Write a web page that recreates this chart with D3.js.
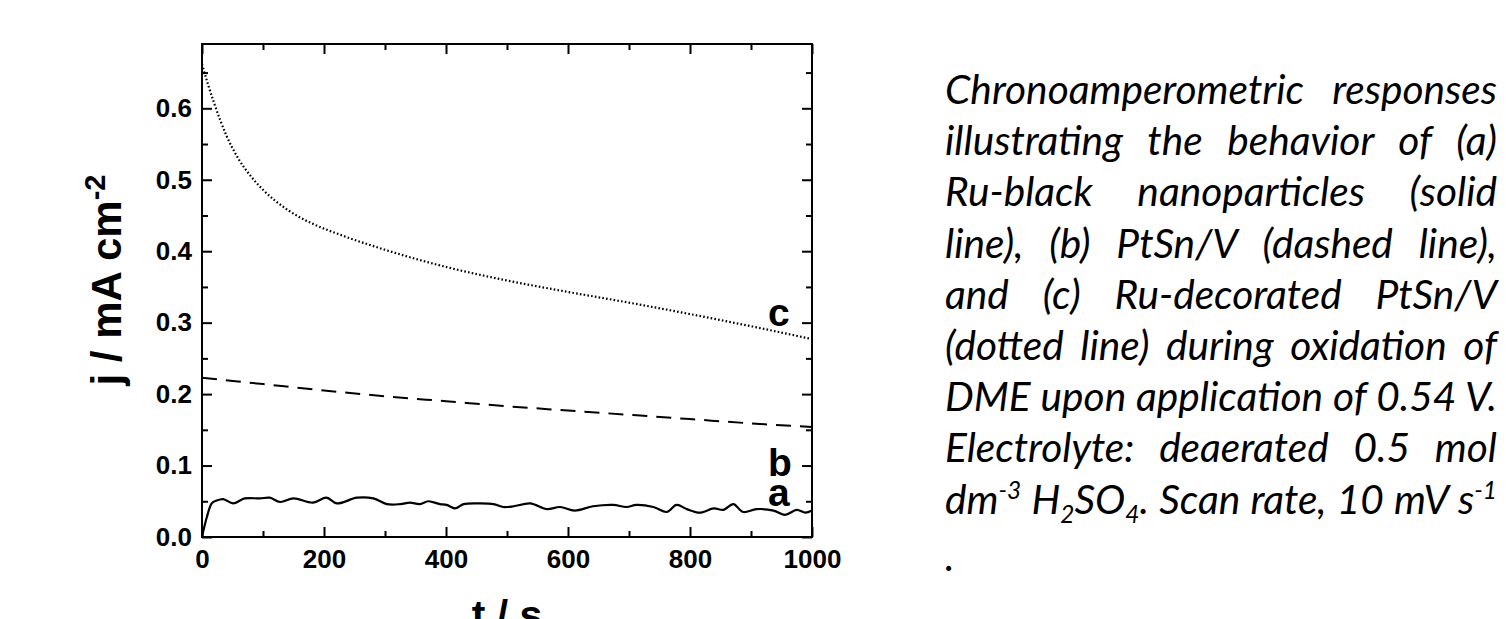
<!DOCTYPE html>
<html>
<head>
<meta charset="utf-8">
<script src="https://cdn.jsdelivr.net/npm/d3@7/dist/d3.min.js"></script>
<style>
  body { margin: 0; background: #fff; }
  #caption { position: absolute; left: 945px; top: 63px; width: 552px;
    font-family: Lato, "Open Sans", sans-serif; font-style: italic; color: #000; }
  #caption .ln { white-space: nowrap; line-height: 51.2px; height: 51.2px; }
  #caption sup, #caption sub { font-size: 0.6em; line-height: 0; }
</style>
</head>
<body>
<script>
// values (t in s, j in mA cm-2)
// (a) Ru-black, solid
var tA = [0, 8, 16, 24, 35, 51, 70, 95, 111, 128, 150, 182, 204, 221, 254, 281, 303, 325, 341, 357,
  371, 390, 401, 415, 429, 456, 478, 494, 511, 538, 565, 587, 611, 641, 674, 696, 712, 740, 762, 778,
  795, 816, 839, 855, 871, 887, 909, 937, 956, 975, 989, 1000];
var jA = [0, 0.028, 0.047, 0.051, 0.053, 0.047, 0.054, 0.054, 0.055, 0.049, 0.054, 0.048, 0.055, 0.047, 0.055, 0.054, 0.046, 0.046, 0.048, 0.046,
  0.050, 0.046, 0.045, 0.040, 0.046, 0.047, 0.046, 0.042, 0.043, 0.047, 0.039, 0.042, 0.037, 0.043, 0.045, 0.042, 0.045, 0.042, 0.035, 0.045,
  0.039, 0.034, 0.040, 0.038, 0.046, 0.035, 0.039, 0.037, 0.031, 0.038, 0.034, 0.037];

// (b) PtSn/V, dashed
var tB = [0, 100, 200, 300, 400, 500, 600, 700, 800, 900, 1000];
var jB = [0.223, 0.214, 0.205, 0.197, 0.190, 0.183, 0.177, 0.171, 0.165, 0.159, 0.154];

// (c) Ru-decorated PtSn/V, dotted
var tC = [0, 10, 20, 40, 60, 80, 100, 140, 180, 230, 300, 400, 500, 600, 700, 800, 900, 1000];
var jC = [0.662, 0.633, 0.607, 0.562, 0.529, 0.505, 0.486, 0.458, 0.439, 0.422, 0.402, 0.378, 0.359, 0.343, 0.328, 0.312, 0.295, 0.277];

var xMajor = [0, 200, 400, 600, 800, 1000];
var xMinor = [100, 300, 500, 700, 900];
var yMajor = [0, 0.1, 0.2, 0.3, 0.4, 0.5, 0.6];
var yMinor = [0.05, 0.15, 0.25, 0.35, 0.45, 0.55, 0.65];

var curveNames = ['a', 'b', 'c'];
var nameT = [928, 928, 928];
var nameJ = [0.044, 0.085, 0.296];

var captionLines = [
  'Chronoamperometric responses',
  'illustrating the behavior of (a)',
  'Ru-black nanoparticles (solid',
  'line), (b) PtSn/V (dashed line),',
  'and (c) Ru-decorated PtSn/V',
  '(dotted line) during oxidation of',
  'DME upon application of 0.54 V.',
  'Electrolyte: deaerated 0.5 mol',
  'dm<sup>-3</sup> H<sub>2</sub>SO<sub>4</sub>. Scan rate, 10 mV s<sup>-1</sup>'
];

var font = '"Liberation Sans", Arial, sans-serif';

var svg = d3.select('body').append('svg')
  .attr('width', 1506)
  .attr('height', 619)
  .style('position', 'absolute')
  .style('left', 0)
  .style('top', 0);

var x = d3.scaleLinear().domain([0, 1000]).range([202, 812]);
var y = d3.scaleLinear().domain([0, 0.69]).range([537, 44]);

// ticks (all pointing inward) on the four sides
function ticks(axis, tr, vals, size, labels) {
  var g = svg.append('g')
    .attr('transform', tr)
    .call(axis.tickValues(vals).tickSize(-size).tickFormat(labels ? labels : ''));
  g.select('.domain').remove();
  g.selectAll('line').attr('stroke', '#000').attr('stroke-width', 2);
  return g;
}

ticks(d3.axisBottom(x).tickPadding(12.5), 'translate(0,537)', xMajor, 10, d3.format('d'));
ticks(d3.axisBottom(x), 'translate(0,537)', xMinor, 6);
ticks(d3.axisTop(x), 'translate(0,44)', xMajor, 10);
ticks(d3.axisTop(x), 'translate(0,44)', xMinor, 6);

ticks(d3.axisLeft(y).tickPadding(10), 'translate(202,0)', yMajor, 10, d3.format('.1f'));
ticks(d3.axisLeft(y), 'translate(202,0)', yMinor, 6);
ticks(d3.axisRight(y), 'translate(812,0)', yMajor, 10);
ticks(d3.axisRight(y), 'translate(812,0)', yMinor, 6);

svg.selectAll('.tick text')
  .attr('fill', '#000')
  .style('font-family', font)
  .style('font-weight', 'bold')
  .style('font-size', '26px');

// frame
svg.append('rect')
  .attr('x', x(0))
  .attr('y', y(0.69))
  .attr('width', x(1000) - x(0))
  .attr('height', y(0) - y(0.69))
  .attr('fill', 'none')
  .attr('stroke', '#000')
  .attr('stroke-width', 2);

// curves
function draw(ts, js, curve) {
  var line = d3.line()
    .x(function(d) { return x(d[0]); })
    .y(function(d) { return y(d[1]); })
    .curve(curve);
  return svg.append('path')
    .datum(d3.zip(ts, js))
    .attr('d', line)
    .attr('fill', 'none')
    .attr('stroke', '#000');
}

draw(tA, jA, d3.curveCatmullRom).attr('stroke-width', 2.2);
draw(tB, jB, d3.curveMonotoneX).attr('stroke-width', 2).attr('stroke-dasharray', '15,9');
draw(tC, jC, d3.curveMonotoneX).attr('stroke-width', 2.2)
  .attr('stroke-dasharray', '1.6,2.2');

// curve names
svg.selectAll('.cname')
  .data(curveNames)
  .enter().append('text')
  .attr('class', 'cname')
  .attr('x', function(d, i) { return x(nameT[i]); })
  .attr('y', function(d, i) { return y(nameJ[i]); })
  .style('font-family', font)
  .style('font-weight', 'bold')
  .style('font-size', '39px')
  .text(function(d) { return d; });

// axis titles
svg.append('text')
  .attr('x', 507)
  .attr('y', 629)
  .attr('text-anchor', 'middle')
  .style('font-family', font)
  .style('font-weight', 'bold')
  .style('font-size', '41px')
  .text('t / s');

var yt = svg.append('text')
  .attr('transform', 'translate(121,280) rotate(-90)')
  .attr('text-anchor', 'middle')
  .style('font-family', font)
  .style('font-weight', 'bold')
  .style('font-size', '42px');
yt.append('tspan').text('j / mA cm');
yt.append('tspan').attr('dy', -16).style('font-size', '29px').text('-2');

// caption, one justified line per div
var cap = d3.select('body').append('div').attr('id', 'caption');
var rows = cap.selectAll('.ln')
  .data(captionLines)
  .enter().append('div')
  .attr('class', 'ln')
  .append('span')
  .html(function(d) { return d; });

cap.style('font-size', '40px');
var widest = d3.max(rows.nodes(), function(n) { return n.getBoundingClientRect().width; });
var fs = Math.min(42, 40 * 550 / widest);
cap.style('font-size', fs + 'px');

rows.each(function() {
  var w = this.getBoundingClientRect().width;
  var gaps = this.textContent.split(' ').length - 1;
  d3.select(this.parentNode).style('word-spacing', ((552 - w) / gaps) + 'px');
});

cap.append('div').attr('class', 'ln').style('margin-top', '6px').text('.');
</script>
</body>
</html>
